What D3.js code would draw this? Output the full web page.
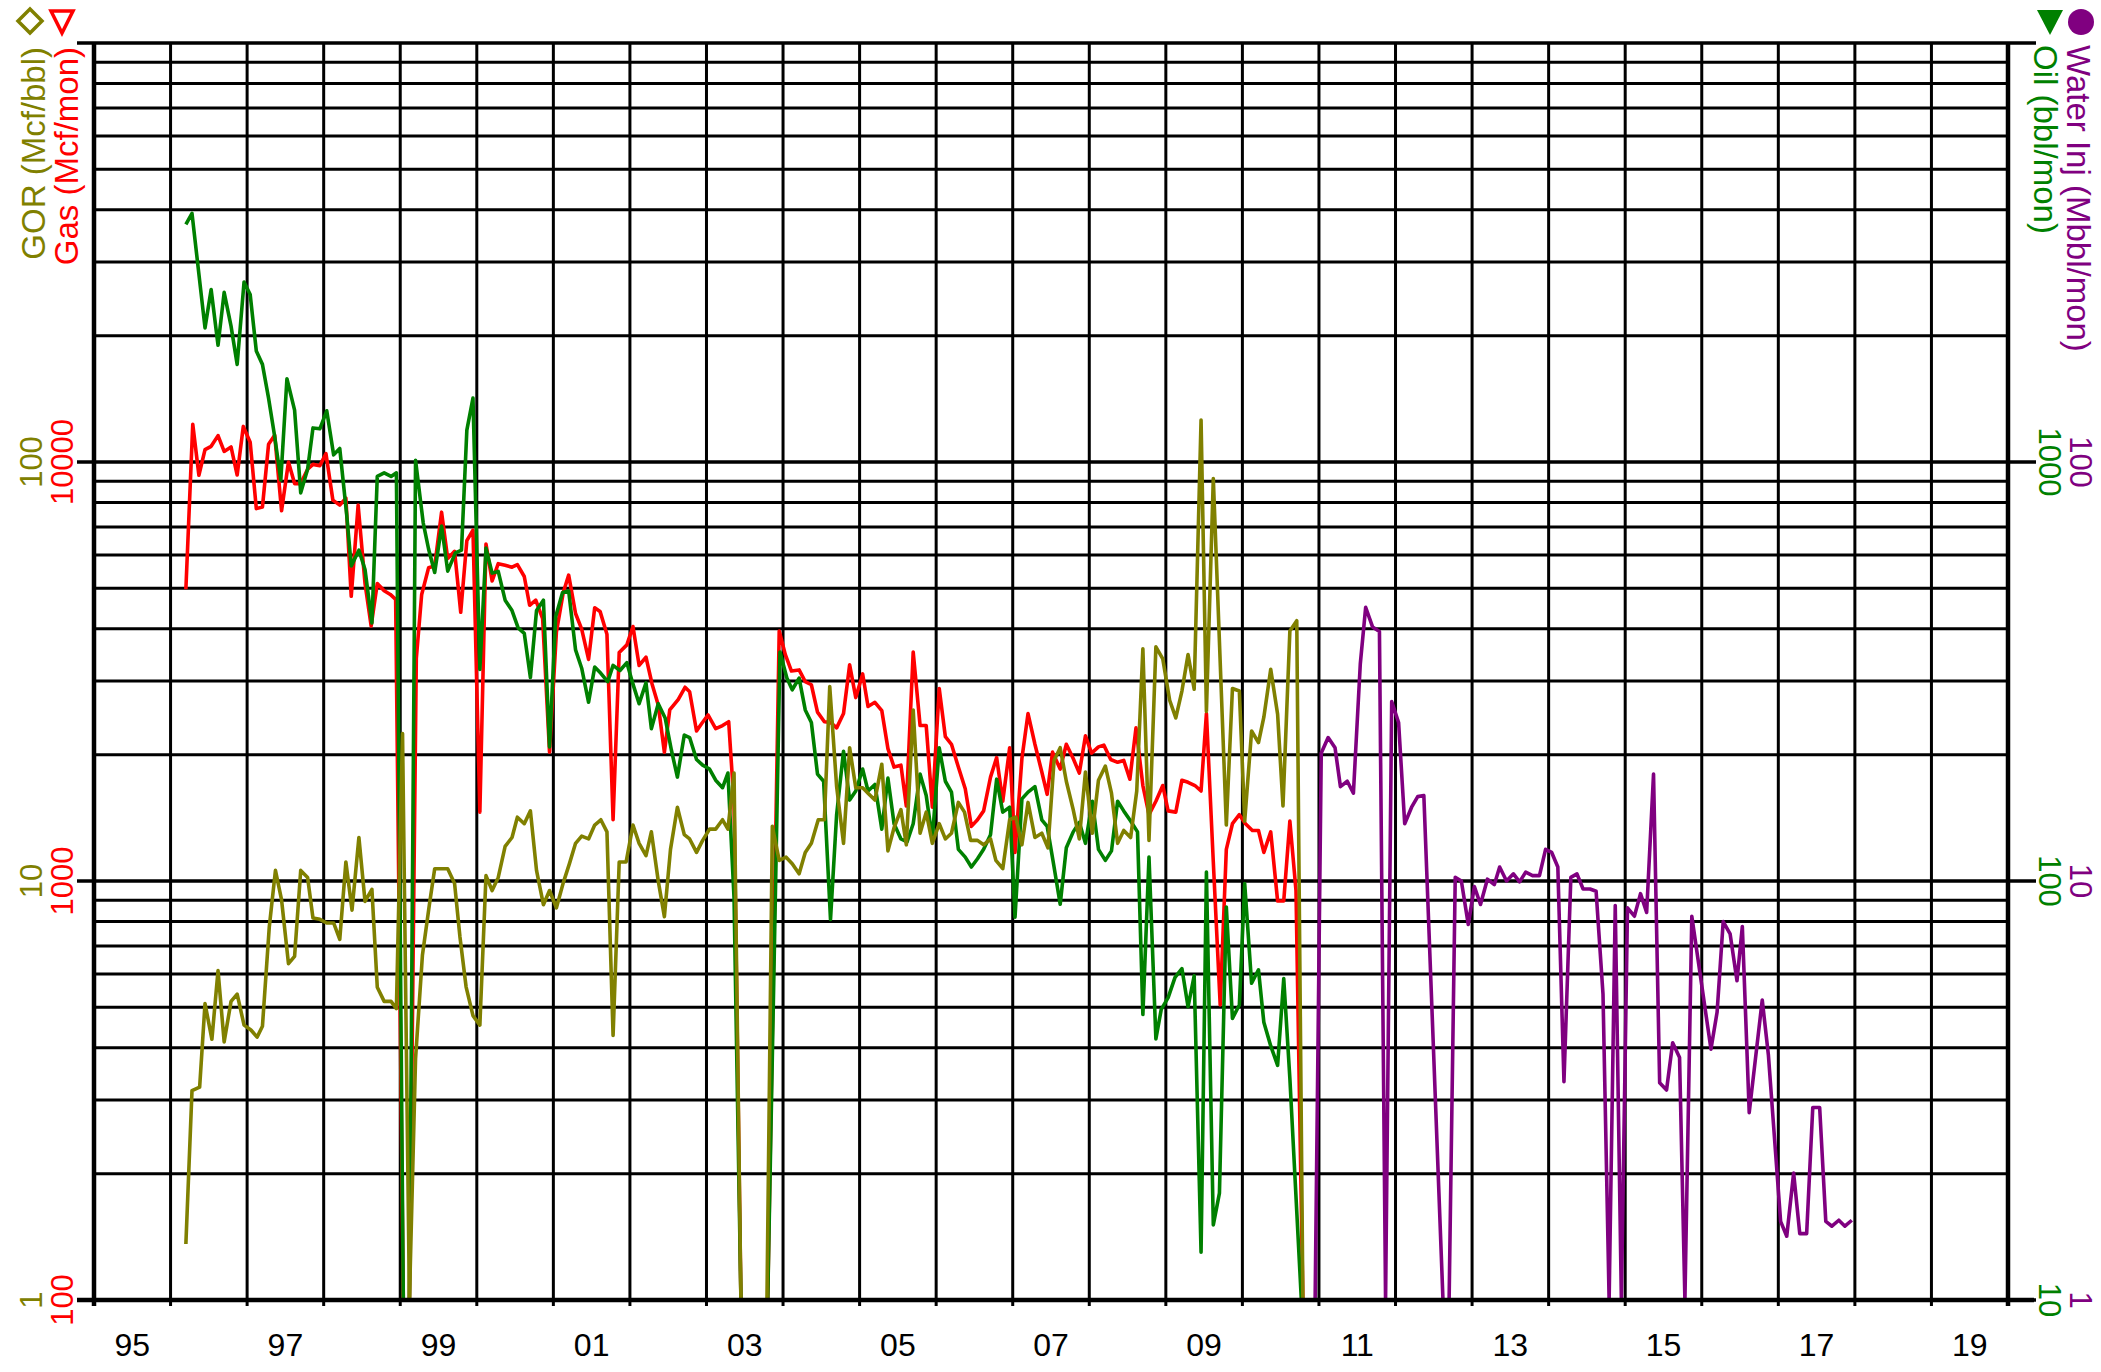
<!DOCTYPE html>
<html>
<head>
<meta charset="utf-8">
<script src="https://cdn.jsdelivr.net/npm/d3@7"></script>
<style>
  html, body { margin: 0; padding: 0; background: #fff; }
  svg { display: block; }
  text { font-family: "Liberation Sans", Arial, sans-serif; }
</style>
</head>
<body>
<div id="chart"></div>
<script>
// ---------- DATA (decimal year, value) ----------
const yearTicks = ["95","97","99","01","03","05","07","09","11","13","15","17","19"];
const yearTickPos = [1995.5,1997.5,1999.5,2001.5,2003.5,2005.5,2007.5,2009.5,2011.5,2013.5,2015.5,2017.5,2019.5];

const gasLabels = ["100","1000","10000"];
const gorLabels = ["1","10","100"];
const oilLabels = ["10","100","1000"];
const waterLabels = ["1","10","100"];

// Gas (Mcf/mon)
const gasData = [
[1996.20,4970],[1996.29,12300],[1996.37,9300],[1996.45,10700],[1996.53,10900],[1996.62,11560],[1996.70,10600],[1996.79,10860],[1996.87,9310],[1996.95,12160],
[1997.04,11150],[1997.12,7740],[1997.20,7810],[1997.28,11020],[1997.36,11590],[1997.45,7650],[1997.54,10000],[1997.62,8880],[1997.70,8880],[1997.79,9610],[1997.86,9870],[1997.95,9800],
[1998.03,10470],[1998.12,8110],[1998.21,7890],[1998.29,8200],[1998.36,4780],[1998.45,7890],[1998.54,5130],[1998.62,4060],[1998.70,5130],[1998.79,4930],[1998.87,4830],[1998.94,4700],
[1999.04,0],[1999.12,0],[1999.21,3400],[1999.28,4830],[1999.37,5590],[1999.45,5650],[1999.54,7590],[1999.62,5880],[1999.71,6120],[1999.79,4380],[1999.87,6490],[1999.95,6880],
[2000.04,1460],[2000.12,6370],[2000.20,5200],[2000.28,5720],[2000.37,5670],[2000.46,5610],[2000.53,5690],[2000.62,5330],[2000.69,4550],[2000.77,4680],[2000.86,4230],[2000.95,2030],
[2001.04,3930],[2001.13,4890],[2001.20,5370],[2001.29,4350],[2001.37,3990],[2001.46,3380],[2001.54,4490],[2001.61,4400],[2001.70,3880],[2001.78,1400],[2001.86,3510],[2001.96,3660],
[2002.04,4050],[2002.12,3270],[2002.21,3420],[2002.29,2950],[2002.37,2630],[2002.45,2030],[2002.52,2560],[2002.63,2710],[2002.72,2900],[2002.78,2830],[2002.87,2280],[2002.94,2380],
[2003.02,2490],[2003.12,2310],[2003.21,2350],[2003.29,2400],[2003.36,1530],[2003.45,0],[2003.80,0],[2003.95,3950],
[2004.03,3470],[2004.11,3170],[2004.21,3190],[2004.29,2990],[2004.37,2940],[2004.45,2530],[2004.54,2400],[2004.62,2390],[2004.70,2320],[2004.79,2510],[2004.87,3280],[2004.95,2740],
[2005.04,3120],[2005.11,2610],[2005.20,2670],[2005.29,2550],[2005.37,2070],[2005.45,1870],[2005.54,1890],[2005.61,1510],[2005.70,3520],[2005.79,2350],[2005.87,2350],[2005.95,1500],
[2006.04,2880],[2006.12,2210],[2006.20,2120],[2006.29,1870],[2006.38,1660],[2006.46,1350],[2006.54,1400],[2006.62,1470],[2006.71,1770],[2006.79,1970],[2006.87,1550],[2006.96,2080],
[2007.03,1170],[2007.12,1960],[2007.20,2510],[2007.29,2120],[2007.38,1820],[2007.45,1610],[2007.52,2030],[2007.62,1850],[2007.70,2120],[2007.79,1960],[2007.87,1810],[2007.95,2220],
[2008.03,2020],[2008.12,2090],[2008.19,2110],[2008.28,1950],[2008.37,1920],[2008.45,1940],[2008.53,1750],[2008.61,2320],[2008.70,1690],[2008.78,1440],[2008.87,1550],[2008.96,1690],
[2009.03,1470],[2009.13,1460],[2009.21,1740],[2009.29,1720],[2009.38,1690],[2009.46,1640],[2009.53,2510],[2009.62,1110],[2009.71,506],[2009.79,1190],[2009.87,1370],[2009.96,1440],
[2010.04,1370],[2010.13,1320],[2010.21,1320],[2010.28,1170],[2010.37,1310],[2010.46,896],[2010.54,896],[2010.62,1390],[2010.70,948],[2010.79,0],[2017.96,0]
];

// Oil (bbl/mon)
const oilData = [
[1996.20,3690],[1996.28,3920],[1996.45,2090],[1996.53,2580],[1996.62,1900],[1996.70,2540],[1996.79,2110],[1996.87,1710],[1996.96,2690],
[1997.04,2510],[1997.12,1840],[1997.20,1710],[1997.28,1420],[1997.36,1150],[1997.44,906],[1997.52,1580],[1997.62,1330],[1997.70,844],[1997.79,961],[1997.86,1206],[1997.95,1200],
[1998.04,1325],[1998.13,1040],[1998.21,1077],[1998.30,750],[1998.36,565],[1998.46,616],[1998.54,554],[1998.63,413],[1998.70,924],[1998.79,942],[1998.88,924],[1998.95,942],
[1999.04,0],[1999.12,0],[1999.20,1010],[1999.30,716],[1999.37,620],[1999.45,545],[1999.54,703],[1999.62,549],[1999.72,607],[1999.80,616],[1999.87,1191],[1999.95,1421],
[2000.04,320],[2000.12,623],[2000.20,543],[2000.28,548],[2000.37,468],[2000.46,442],[2000.54,402],[2000.62,390],[2000.70,306],[2000.78,442],[2000.87,468],[2000.95,209],
[2001.03,427],[2001.12,488],[2001.20,492],[2001.29,356],[2001.37,322],[2001.46,267],[2001.54,324],[2001.62,313],[2001.71,299],[2001.78,327],[2001.87,318],[2001.96,332],
[2002.04,295],[2002.12,265],[2002.21,297],[2002.28,231],[2002.37,265],[2002.46,245],[2002.54,206],[2002.62,177],[2002.71,223],[2002.78,220],[2002.87,195],[2002.95,189],
[2003.04,185],[2003.12,174],[2003.21,167],[2003.28,181],[2003.36,91],[2003.45,0],[2003.80,0],[2003.96,352],
[2004.05,305],[2004.12,286],[2004.21,305],[2004.29,256],[2004.37,239],[2004.45,180],[2004.53,173],[2004.62,81],[2004.70,144],[2004.79,204],[2004.87,156],[2004.95,164],
[2005.04,185],[2005.11,164],[2005.20,170],[2005.29,133],[2005.37,176],[2005.45,137],[2005.54,126],[2005.62,124],[2005.70,137],[2005.79,180],[2005.87,160],[2005.95,126],
[2006.04,208],[2006.12,173],[2006.20,163],[2006.29,119],[2006.38,114],[2006.46,108],[2006.54,113],[2006.62,119],[2006.71,129],[2006.79,175],[2006.87,146],[2006.96,150],
[2007.03,82],[2007.12,157],[2007.20,163],[2007.29,168],[2007.38,140],[2007.45,135],[2007.54,108],[2007.62,88],[2007.70,120],[2007.79,131],[2007.87,138],[2007.95,123],
[2008.04,155],[2008.12,119],[2008.21,112],[2008.29,118],[2008.37,155],[2008.45,147],[2008.54,139],[2008.63,131],[2008.70,48],[2008.78,114],[2008.87,42],[2008.94,49.4],
[2009.03,52.7],[2009.12,58.9],[2009.21,61.8],[2009.29,50.1],[2009.37,59.4],[2009.46,13.0],[2009.53,105],[2009.62,15.1],[2009.70,18.0],[2009.79,86.7],[2009.87,47],[2009.96,50.6],
[2010.03,98.6],[2010.12,57],[2010.21,61.4],[2010.28,46],[2010.37,40.4],[2010.46,36.3],[2010.54,58.5],[2010.62,33.8],[2010.77,0],[2017.96,0]
];

// GOR (Mcf/bbl)
const gorData = [
[1996.20,1.36],[1996.28,3.16],[1996.38,3.22],[1996.45,5.10],[1996.54,4.19],[1996.62,6.11],[1996.70,4.13],[1996.79,5.16],[1996.87,5.37],[1996.96,4.53],
[1997.05,4.41],[1997.13,4.24],[1997.20,4.50],[1997.29,7.79],[1997.37,10.6],[1997.45,9.01],[1997.54,6.35],[1997.62,6.61],[1997.70,10.6],[1997.79,10.2],[1997.86,8.16],[1997.95,8.10],
[1998.04,7.94],[1998.13,7.94],[1998.21,7.26],[1998.29,11.1],[1998.37,8.52],[1998.46,12.7],[1998.54,8.94],[1998.63,9.55],[1998.70,5.58],[1998.79,5.16],[1998.88,5.16],[1998.95,4.96],
[1999.03,22.5],[1999.12,0],[1999.20,3.77],[1999.29,6.66],[1999.38,8.77],[1999.45,10.7],[1999.53,10.7],[1999.62,10.7],[1999.71,9.86],[1999.78,7.35],[1999.86,5.59],[1999.95,4.77],
[2000.04,4.53],[2000.12,10.3],[2000.20,9.49],[2000.28,10.2],[2000.37,12.1],[2000.46,12.7],[2000.53,14.2],[2000.62,13.7],[2000.70,14.7],[2000.78,10.6],[2000.87,8.78],[2000.95,9.49],
[2001.04,8.63],[2001.13,9.91],[2001.21,11.0],[2001.29,12.3],[2001.37,12.8],[2001.46,12.6],[2001.54,13.6],[2001.62,14.0],[2001.70,13.1],[2001.78,4.28],[2001.86,11.1],[2001.95,11.1],
[2002.04,13.6],[2002.12,12.3],[2002.21,11.5],[2002.28,13.1],[2002.37,10.0],[2002.45,8.22],[2002.53,11.9],[2002.62,15.0],[2002.71,12.9],[2002.78,12.6],[2002.87,11.7],[2002.95,12.5],
[2003.04,13.3],[2003.12,13.3],[2003.21,14.0],[2003.28,13.3],[2003.36,18.1],[2003.45,0],[2003.79,0],[2003.86,13.5],[2003.95,11.2],
[2004.04,11.4],[2004.12,11.0],[2004.21,10.4],[2004.29,11.7],[2004.37,12.3],[2004.46,14.0],[2004.54,14.0],[2004.61,29.1],[2004.70,16.8],[2004.79,12.3],[2004.87,20.8],[2004.95,16.7],
[2005.04,16.7],[2005.11,16.2],[2005.20,15.6],[2005.29,19.0],[2005.37,11.8],[2005.45,13.4],[2005.54,14.8],[2005.61,12.2],[2005.70,25.6],[2005.79,13.0],[2005.87,14.6],[2005.95,12.3],
[2006.04,13.7],[2006.12,12.6],[2006.20,13.0],[2006.29,15.4],[2006.37,14.6],[2006.45,12.5],[2006.54,12.5],[2006.62,12.2],[2006.71,12.6],[2006.78,11.2],[2006.87,10.7],[2006.96,14.0],
[2007.04,14.2],[2007.12,12.2],[2007.20,15.4],[2007.29,12.7],[2007.38,13.0],[2007.46,12.0],[2007.54,19.4],[2007.62,20.8],[2007.70,17.3],[2007.79,14.8],[2007.87,12.6],[2007.95,18.2],
[2008.04,13.0],[2008.12,17.4],[2008.21,18.8],[2008.29,16.2],[2008.37,12.3],[2008.45,13.2],[2008.54,12.7],[2008.62,16.4],[2008.70,35.8],[2008.78,12.5],[2008.87,36.2],[2008.96,33.9],
[2009.05,27.0],[2009.13,24.5],[2009.21,28.4],[2009.29,34.7],[2009.37,28.7],[2009.46,126],[2009.53,25.4],[2009.62,91.3],[2009.79,13.6],[2009.87,28.8],[2009.96,28.4],
[2010.03,13.9],[2010.12,22.8],[2010.21,21.4],[2010.28,24.6],[2010.37,32.0],[2010.46,25.0],[2010.53,15.1],[2010.62,39.5],[2010.71,41.8],[2010.79,0],[2017.96,0]
];

// Water Inj (Mbbl/mon)
const waterData = [
[1996.20,0],[2010.95,0],[2011.03,20.2],[2011.12,22.0],[2011.21,20.8],[2011.28,16.8],[2011.37,17.3],[2011.45,16.2],[2011.54,33.0],[2011.61,45.0],[2011.70,40.4],[2011.79,39.4],
[2011.87,0],[2011.95,26.8],[2012.04,23.9],[2012.12,13.7],[2012.21,15.0],[2012.29,15.9],[2012.37,16.0],[2012.62,0],[2012.70,0],[2012.78,10.2],[2012.86,10.0],[2012.95,7.88],
[2013.03,9.70],[2013.11,8.79],[2013.20,10.1],[2013.29,9.80],[2013.36,10.8],[2013.45,10.0],[2013.54,10.4],[2013.62,9.95],[2013.70,10.5],[2013.79,10.3],[2013.88,10.3],[2013.96,11.9],
[2014.04,11.7],[2014.12,10.8],[2014.20,3.32],[2014.29,10.2],[2014.37,10.4],[2014.45,9.57],[2014.54,9.57],[2014.62,9.45],[2014.71,5.37],[2014.79,0],[2014.87,8.74],[2014.95,0],
[2015.03,8.63],[2015.12,8.24],[2015.20,9.33],[2015.28,8.41],[2015.37,18.0],[2015.45,3.30],[2015.54,3.17],[2015.62,4.11],[2015.71,3.79],[2015.78,0],[2015.87,8.24],
[2016.12,3.97],[2016.20,4.86],[2016.28,8.0],[2016.37,7.48],[2016.46,5.78],[2016.53,7.79],[2016.62,2.80],[2016.79,5.2],[2016.87,3.85],
[2017.03,1.54],[2017.11,1.42],[2017.20,2.01],[2017.28,1.44],[2017.37,1.44],[2017.45,2.88],[2017.54,2.88],[2017.62,1.54],[2017.70,1.50],[2017.79,1.55],[2017.87,1.50],[2017.96,1.55]
];

// ---------- LAYOUT ----------
const W = 2101, H = 1372;
const L = 94, R = 2008, T = 43, B = 1300;
const C = { gas: "#ff0000", gor: "#808000", oil: "#008000", water: "#800080" };

const svg = d3.select("#chart").append("svg").attr("width", W).attr("height", H);
svg.append("rect").attr("width", W).attr("height", H).attr("fill", "#fff");

const x = d3.scaleLinear().domain([1995, 2020]).range([L, R]);
const yGas = d3.scaleLog().domain([100, 100000]).range([B, T]);
const yOil = d3.scaleLog().domain([10, 10000]).range([B, T]);
const yGor = d3.scaleLog().domain([1, 1000]).range([B, T]);
const yWat = d3.scaleLog().domain([1, 1000]).range([B, T]);

// ---------- GRID ----------
const g = svg.append("g");
const isDecade = d => Math.abs(Math.log10(d) - Math.round(Math.log10(d))) < 1e-9;
const hTicks = yGas.ticks();
g.selectAll("line.h").data(hTicks).join("line")
  .attr("x1", d => isDecade(d) ? 77 : L)
  .attr("x2", d => isDecade(d) ? 2036 : R)
  .attr("y1", d => yGas(d)).attr("y2", d => yGas(d))
  .attr("stroke", "#000").attr("stroke-width", d => isDecade(d) ? 3.5 : 3);

const years = d3.range(1995, 2021);
g.selectAll("line.v").data(years).join("line")
  .attr("x1", d => x(d)).attr("x2", d => x(d))
  .attr("y1", T).attr("y2", B + 6)
  .attr("stroke", "#000")
  .attr("stroke-width", d => (d === 1995 || d === 2020) ? 4.5 : 3);

// ---------- SERIES ----------
svg.append("clipPath").attr("id", "clip").append("rect")
  .attr("x", L).attr("y", T - 2).attr("width", R - L).attr("height", B - T + 2);

const plot = svg.append("g").attr("clip-path", "url(#clip)");
function drawSeries(data, yScale, color) {
  const line = d3.line()
    .x(d => x(d[0]))
    .y(d => d[1] > 0 ? yScale(d[1]) : B);
  plot.append("path").datum(data)
    .attr("d", line).attr("fill", "none")
    .attr("stroke", color).attr("stroke-width", 3.6)
    .attr("stroke-linejoin", "round");
}
drawSeries(gasData, yGas, C.gas);
drawSeries(oilData, yOil, C.oil);
drawSeries(gorData, yGor, C.gor);
drawSeries(waterData, yWat, C.water);

// bottom axis
svg.append("line").attr("x1", 77).attr("x2", 2034).attr("y1", B).attr("y2", B)
  .attr("stroke", "#000").attr("stroke-width", 4.5);

// ---------- X LABELS ----------
svg.selectAll("text.xl").data(yearTicks).join("text")
  .attr("x", (d, i) => x(yearTickPos[i])).attr("y", 1356)
  .attr("text-anchor", "middle").attr("font-size", 32).attr("fill", "#000")
  .text(d => d);

// ---------- Y TICK LABELS ----------
const decadesGas = [100, 1000, 10000];
function leftLabel(txt, xc, yc, color) {
  svg.append("text").attr("transform", `translate(${xc},${yc}) rotate(-90)`)
    .attr("text-anchor", "middle").attr("dy", "0.35em")
    .attr("font-size", 31).attr("fill", color).text(txt);
}
function rightLabel(txt, xc, yc, color) {
  svg.append("text").attr("transform", `translate(${xc},${yc}) rotate(90)`)
    .attr("text-anchor", "middle").attr("dy", "0.35em")
    .attr("font-size", 31).attr("fill", color).text(txt);
}
decadesGas.forEach((v, i) => {
  leftLabel(gorLabels[i], 31, yGas(v), C.gor);
  leftLabel(gasLabels[i], 62, yGas(v), C.gas);
});
const decadesOil = [10, 100, 1000];
decadesOil.forEach((v, i) => {
  rightLabel(oilLabels[i], 2050, yOil(v), C.oil);
  rightLabel(waterLabels[i], 2081, yOil(v), C.water);
});

// ---------- AXIS TITLES ----------
svg.append("text").attr("transform", `translate(33,47) rotate(-90)`)
  .attr("text-anchor", "end").attr("dy", "0.35em").attr("font-size", 33)
  .attr("fill", C.gor).text("GOR (Mcf/bbl)");
svg.append("text").attr("transform", `translate(66,47) rotate(-90)`)
  .attr("text-anchor", "end").attr("dy", "0.35em").attr("font-size", 33)
  .attr("fill", C.gas).text("Gas (Mcf/mon)");
svg.append("text").attr("transform", `translate(2046,45) rotate(90)`)
  .attr("text-anchor", "start").attr("dy", "0.35em").attr("font-size", 33)
  .attr("fill", C.oil).text("Oil (bbl/mon)");
svg.append("text").attr("transform", `translate(2079,45) rotate(90)`)
  .attr("text-anchor", "start").attr("dy", "0.35em").attr("font-size", 33)
  .attr("fill", C.water).text("Water Inj (Mbbl/mon)");

// ---------- SYMBOLS ----------
svg.append("path").attr("d", "M30,9 L42,21 L30,33 L18,21 Z")
  .attr("fill", "none").attr("stroke", C.gor).attr("stroke-width", 3.5);
svg.append("path").attr("d", "M51,11 L73,11 L62,33 Z")
  .attr("fill", "none").attr("stroke", C.gas).attr("stroke-width", 3.5);
svg.append("path").attr("d", "M2037,10 L2063,10 L2050,35 Z").attr("fill", C.oil);
svg.append("circle").attr("cx", 2081).attr("cy", 22).attr("r", 13).attr("fill", C.water);
</script>
</body>
</html>
